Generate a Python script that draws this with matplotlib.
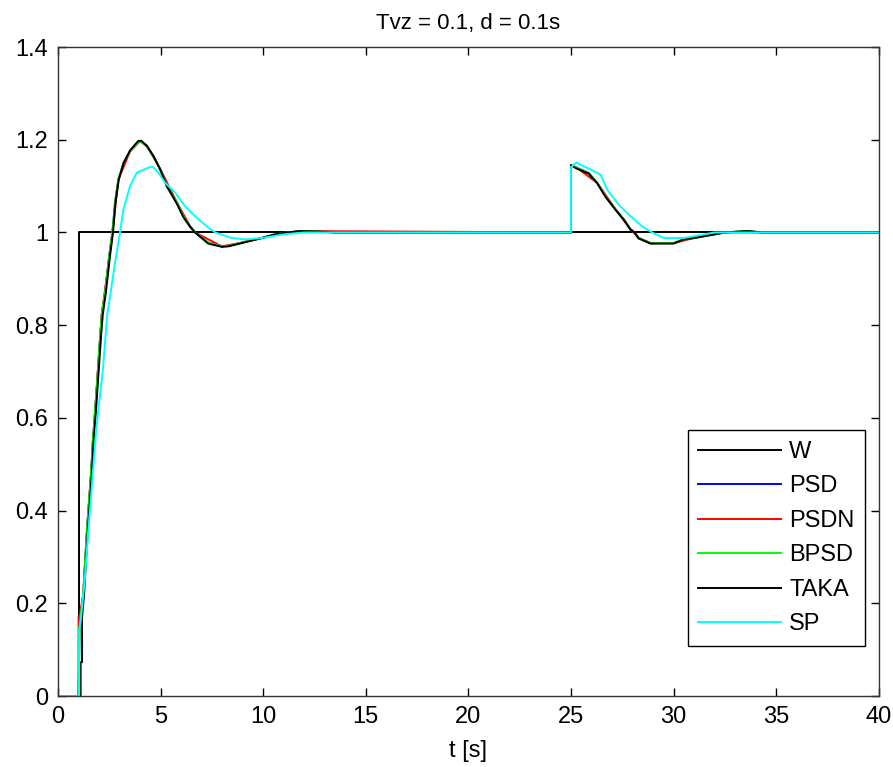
import matplotlib
matplotlib.use("Agg")
import matplotlib.pyplot as plt

plt.rcParams['font.family'] = ['Liberation Sans', 'DejaVu Sans']

# reference signal
t_w = [0, 1.0, 1.0, 40]
y_w = [0, 0, 1.0, 1.0]

# PSD / PSDN / BPSD response (they nearly overlap)
t_ctrl = [0, 1.0, 1.05, 1.23, 1.32, 1.40, 1.51, 1.61, 1.69, 1.80, 1.89, 1.97, 2.05,
          2.13, 2.29, 2.40, 2.50, 2.65, 2.78, 2.94, 3.19, 3.51, 3.90, 4.05, 4.33,
          4.65, 4.98, 5.30, 5.79, 6.11, 6.44, 6.68, 7.32, 7.98, 8.3, 8.95, 9.93,
          10.5, 11.0, 11.8, 12.6, 13.5, 25.0, 25.0, 25.27, 25.87, 26.28, 26.68,
          27.17, 27.58, 27.9, 28.1, 28.3, 28.88, 30.0, 30.5, 30.98, 32.0, 32.5,
          33.6, 34.3, 40]
y_ctrl = [0, 0, 0.15, 0.22, 0.29, 0.35, 0.42, 0.48, 0.547, 0.61, 0.668, 0.72, 0.773,
          0.823, 0.87, 0.913, 0.952, 1.0, 1.065, 1.114, 1.15, 1.175, 1.194, 1.196, 1.185,
          1.164, 1.136, 1.10, 1.065, 1.035, 1.013, 1.0, 0.978, 0.970, 0.971, 0.978, 0.988,
          0.995, 0.999, 1.003, 1.002, 1.0, 1.0, 1.145, 1.14, 1.128, 1.107, 1.078,
          1.05, 1.028, 1.007, 1.0, 0.988, 0.977, 0.977, 0.985, 0.988, 0.996, 1.0,
          1.003, 1.0, 1.0]

# PSDN starts with a small jump
t_psdn = [0, 1.0, 1.0, 1.05, 1.23, 1.40, 1.61, 1.80, 1.97, 2.13, 2.40, 2.65, 2.94,
          3.51, 4.0, 4.33, 4.98, 5.79, 6.44, 6.68, 7.98, 8.95, 9.93, 11.0, 12.0, 25.0,
          25.0, 25.27, 26.28, 27.17, 27.9, 28.3, 28.88, 30.0, 30.98, 32.5, 40]
y_psdn = [0, 0, 0.172, 0.172, 0.22, 0.35, 0.48, 0.61, 0.72, 0.823, 0.913, 1.0, 1.114,
          1.175, 1.197, 1.187, 1.137, 1.065, 1.013, 1.0, 0.970, 0.978, 0.988, 0.999, 1.003, 1.0,
          1.145, 1.14, 1.107, 1.05, 1.007, 0.988, 0.977, 0.977, 0.988, 1.0, 1.0]

# TAKA lags slightly in the rise
t_taka = [0, 1.1, 1.1, 1.17, 1.17, 1.27, 1.36, 1.44, 1.55, 1.65, 1.73, 1.84, 1.93,
          2.01, 2.09, 2.18, 2.33, 2.44, 2.54, 2.68, 2.80, 2.96, 3.20, 3.51, 3.90,
          4.05, 4.33, 4.65, 4.98, 5.30, 5.79, 6.11, 6.44, 6.68, 7.32, 7.98, 8.3,
          8.95, 9.93, 10.5, 11.0, 11.8, 12.6, 13.5, 25.0, 25.0, 25.27, 25.87, 26.28,
          26.68, 27.17, 27.58, 27.9, 28.1, 28.3, 28.88, 30.0, 30.5, 30.98, 32.0,
          32.5, 33.6, 34.3, 40]
y_taka = [0, 0, 0.073, 0.073, 0.17, 0.22, 0.29, 0.35, 0.42, 0.48, 0.547, 0.61, 0.668,
          0.72, 0.773, 0.823, 0.87, 0.913, 0.952, 1.0, 1.065, 1.114, 1.15, 1.177, 1.197,
          1.198, 1.187, 1.165, 1.136, 1.10, 1.062, 1.033, 1.012, 1.0, 0.976, 0.969, 0.970,
          0.977, 0.988, 0.995, 0.999, 1.003, 1.002, 1.0, 1.0, 1.145, 1.138, 1.127, 1.106,
          1.077, 1.049, 1.027, 1.006, 1.0, 0.987, 0.976, 0.976, 0.985, 0.988, 0.996,
          1.0, 1.003, 1.0, 1.0]

# Smith predictor
t_sp = [0, 1.03, 1.03, 1.1, 1.3, 1.48, 1.66, 1.86, 2.2, 2.39, 2.78, 3.02, 3.19, 3.51,
        3.84, 4.41, 4.6, 4.89, 5.22, 5.71, 6.20, 6.68, 7.25, 7.66, 8.47, 9.12, 9.93,
        11.0, 12.0, 25.0, 25.0, 25.27, 25.62, 26.44, 26.77, 27.33, 27.74, 28.47,
        28.96, 29.53, 30.5, 31.0, 32.0, 40]
y_sp = [0, 0, 0.144, 0.16, 0.25, 0.36, 0.46, 0.575, 0.71, 0.82, 0.935, 1.0, 1.05, 1.10,
        1.129, 1.14, 1.142, 1.129, 1.107, 1.086, 1.056, 1.035, 1.013, 1.0, 0.988, 0.985, 0.988,
        0.996, 1.0, 1.0, 1.141, 1.151, 1.143, 1.125, 1.092, 1.06, 1.042, 1.013,
        1.0, 0.988, 0.988, 0.992, 1.0, 1.0]

xticks = [0, 5, 10, 15, 20, 25, 30, 35, 40]
yticks = [0, 0.2, 0.4, 0.6, 0.8, 1.0, 1.2, 1.4]
ytick_labels = ["0", "0.2", "0.4", "0.6", "0.8", "1", "1.2", "1.4"]

fig = plt.figure(figsize=(8.93, 7.67), dpi=100)
ax = fig.add_axes([0.065, 0.0925, 0.919, 0.8462])

lw = 1.4
ax.plot(t_w, y_w, color="black", lw=lw, label="W")
ax.plot(t_ctrl, y_ctrl, color="#0000ff", lw=lw, label="PSD")
ax.plot(t_psdn, y_psdn, color="#ff0000", lw=lw, label="PSDN")
ax.plot(t_ctrl, y_ctrl, color="#00ff00", lw=lw, label="BPSD")
ax.plot(t_taka, y_taka, color="black", lw=lw, label="TAKA")
ax.plot(t_sp, y_sp, color="#00ffff", lw=lw, label="SP")

ax.set_xlim(0, 40)
ax.set_ylim(0, 1.4)
ax.set_xticks(xticks)
ax.set_xticklabels([str(x) for x in xticks])
ax.set_yticks(yticks)
ax.set_yticklabels(ytick_labels)
ax.tick_params(direction="in", length=6, width=1, top=True, right=True,
               labelsize=17, pad=7)
for s in ax.spines.values():
    s.set_linewidth(1)
    s.set_color("#333333")

ax.set_title("Tvz = 0.1, d = 0.1s", fontsize=16, pad=13)
ax.set_xlabel("t [s]", fontsize=17, labelpad=9)

leg = ax.legend(loc="lower right", bbox_to_anchor=(0.9835, 0.077), borderaxespad=0,
                fontsize=17, handlelength=3.5, handletextpad=0.35, labelspacing=0.53,
                fancybox=False, framealpha=1, edgecolor="black", borderpad=0.45)
leg.get_frame().set_linewidth(1)

fig.savefig("out.png", dpi=100)
